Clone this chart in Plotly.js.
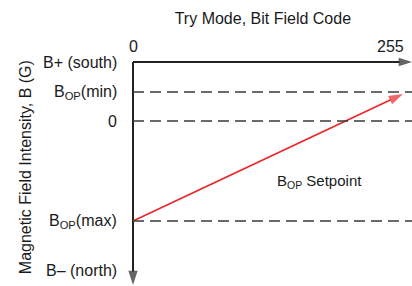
<!DOCTYPE html>
<html>
<head>
<meta charset="utf-8">
<script src="https://cdn.plot.ly/plotly-3.0.1.min.js"></script>
<style>html,body{margin:0;padding:0;background:#fff;}#chart{width:412px;height:286px;}</style>
</head>
<body>
<div id="chart"></div>
<script>
// Bit field codes (x axis)
var codes = [0, 255];
var codeLabels = ['0', '255'];
// Field levels (arbitrary units)
var levelNames = ['B+ (south)', 'B<sub>OP</sub>(min)', '0', 'B<sub>OP</sub>(max)', 'B\u2013 (north)'];
var levelValues = [59, 29, 0, -100, -149];
var dashedLevels = [29, 0, -100];
// BOP setpoint line: code -> field
var setpointCodes = [0, 255];
var setpointValues = [-100, 27];
var axisEnd = { x: 263.5, y: -164 };

var font = 'Arial, "Liberation Sans", Helvetica, sans-serif';
var txt = '#1a1a1a';
var axisColor = '#222';
var red = '#e8262b';

function arrowTrace(xs, ys, color, width, headSize) {
  return {
    x: xs, y: ys, type: 'scatter', mode: 'lines+markers',
    line: { color: color, width: width },
    marker: { symbol: ['circle', 'arrow'], size: [0, headSize], color: color, angleref: 'previous',
      line: { width: 0 } },
    hoverinfo: 'skip', showlegend: false, cliponaxis: false
  };
}

var traces = [
  arrowTrace([codes[0], axisEnd.x], [levelValues[0], levelValues[0]], axisColor, 2, 14),
  arrowTrace([codes[0], codes[0]], [levelValues[0], axisEnd.y], axisColor, 2, 15),
  arrowTrace(setpointCodes, setpointValues, red, 1.7, 15)
];

var shapes = dashedLevels.map(function (v) {
  return { type: 'line', xref: 'x', yref: 'y', x0: codes[0], x1: axisEnd.x, y0: v, y1: v,
    line: { color: '#3a3a3a', width: 1.3, dash: '11px,6px' } };
});

var annotations = [];
// level labels
levelNames.forEach(function (n, i) {
  annotations.push({ xref: 'paper', yref: 'y', x: -0.003, y: levelValues[i], xanchor: 'right', yanchor: 'middle',
    text: n, showarrow: false, font: { family: font, size: 16, color: txt } });
});
// code labels
annotations.push({ xref: 'x', yref: 'paper', x: codes[0], y: 1.013, xanchor: 'center', yanchor: 'middle',
  text: codeLabels[0], showarrow: false, font: { family: font, size: 16, color: txt } });
annotations.push({ xref: 'x', yref: 'paper', x: codes[1], y: 1.013, xanchor: 'right', yanchor: 'middle', xshift: 3,
  text: codeLabels[1], showarrow: false, font: { family: font, size: 16, color: txt } });
// y title
annotations.push({ xref: 'paper', yref: 'paper', x: -0.325, y: 0.504, xanchor: 'center', yanchor: 'middle',
  textangle: -90, text: 'Magnetic Field Intensity, B (G)', showarrow: false,
  font: { family: font, size: 16, color: txt } });
// setpoint label
annotations.push({ xref: 'x', yref: 'y', x: 176.6, y: -60, xanchor: 'center', yanchor: 'middle',
  text: 'B<sub>OP</sub> Setpoint', showarrow: false, font: { family: font, size: 15, color: txt } });

var layout = {
  width: 412, height: 286,
  margin: { l: 120, r: 0, t: 50, b: 0, pad: 0 },
  paper_bgcolor: '#fff', plot_bgcolor: '#fff',
  title: { text: 'Try Mode, Bit Field Code', x: 0.638, y: 1 - 18 / 286, xref: 'container', yref: 'container',
    xanchor: 'center', yanchor: 'middle', font: { family: font, size: 16, color: txt } },
  xaxis: { range: [-12.28, 263.5], visible: false, fixedrange: true },
  yaxis: { range: [-165, 71], visible: false, fixedrange: true },
  shapes: shapes,
  annotations: annotations,
  showlegend: false
};

Plotly.newPlot('chart', traces, layout, { staticPlot: true, displayModeBar: false });
</script>
</body>
</html>
